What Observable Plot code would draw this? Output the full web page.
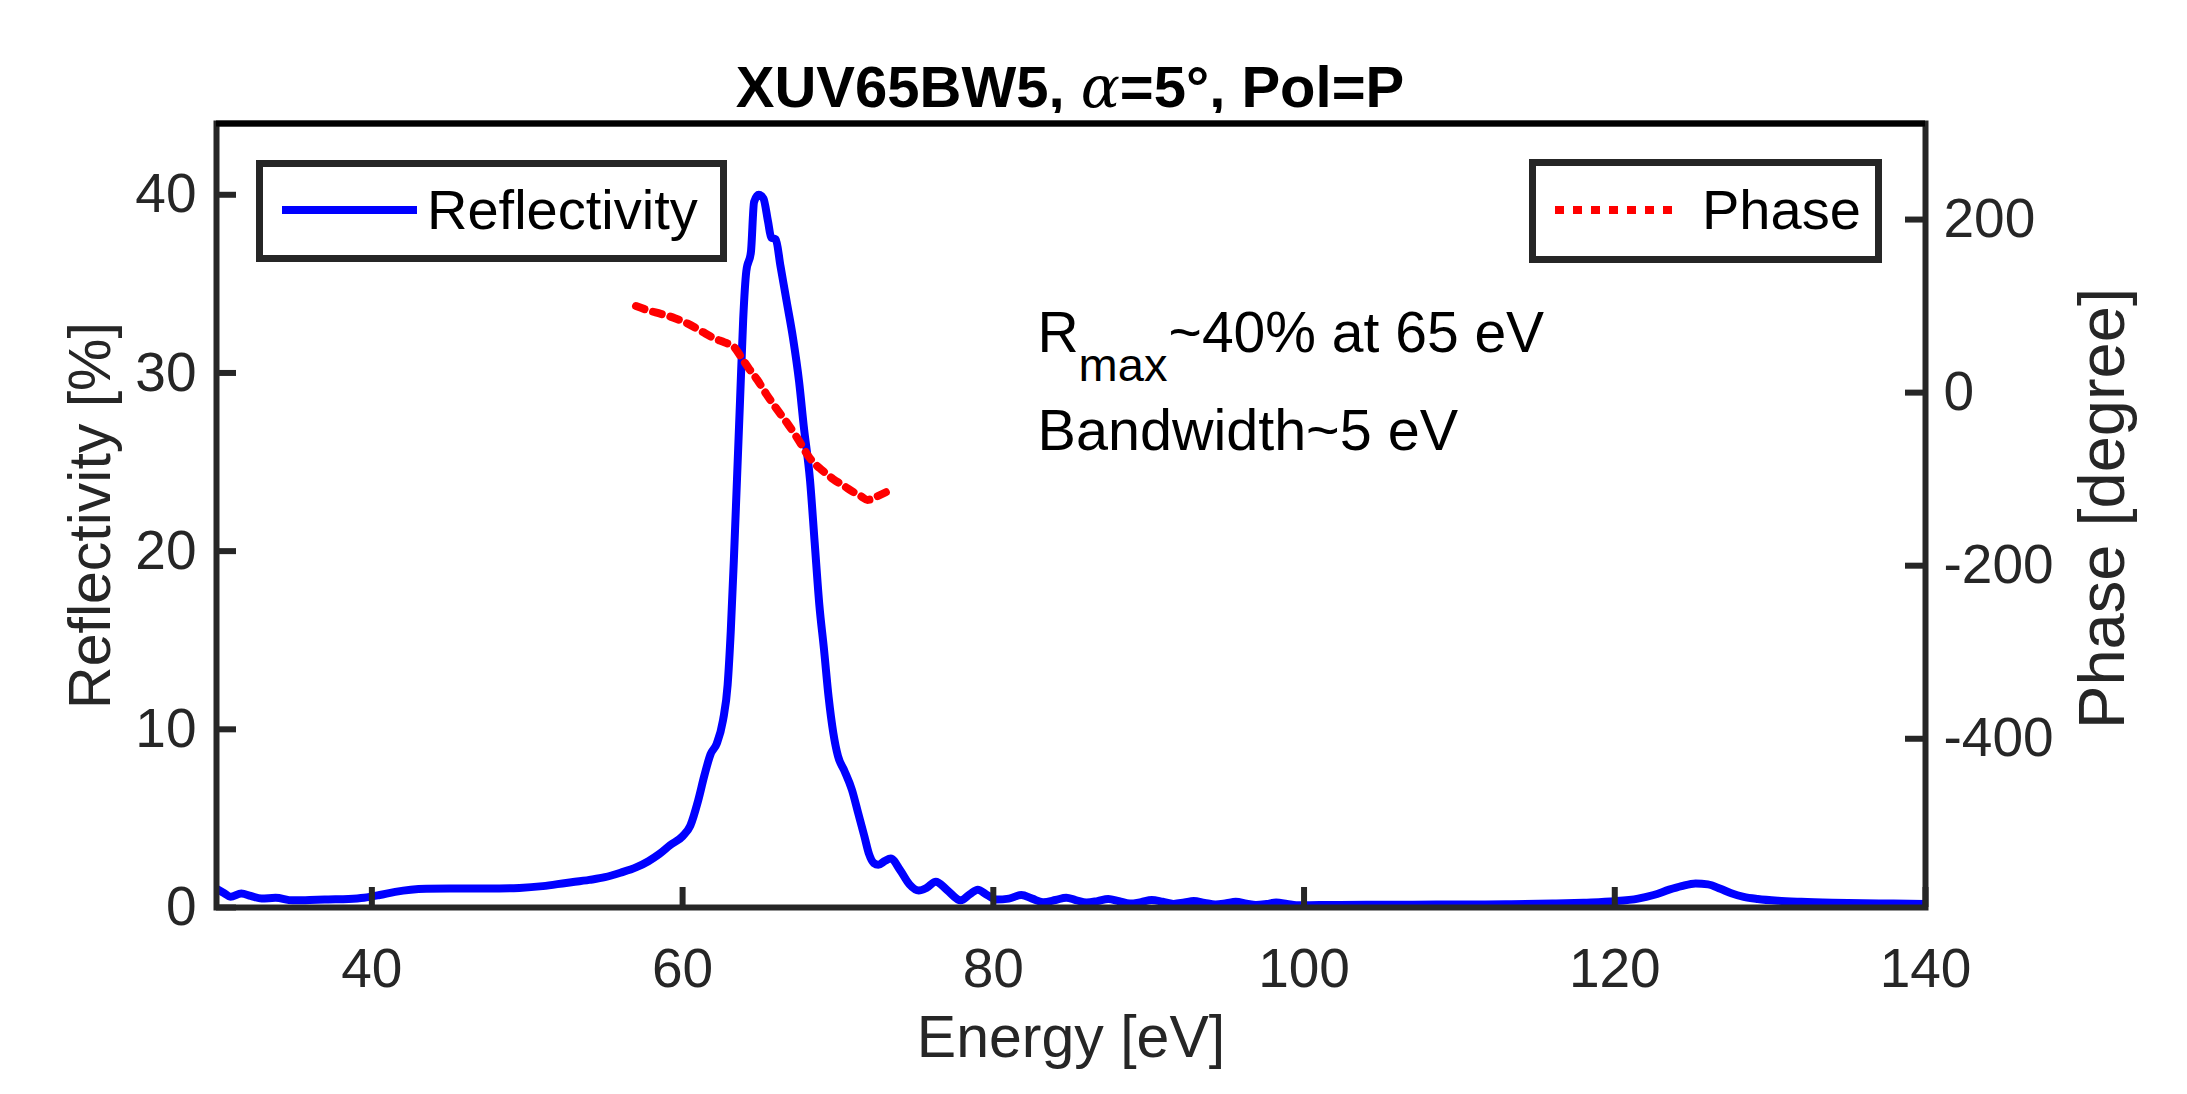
<!DOCTYPE html>
<html>
<head>
<meta charset="utf-8">
<script src="https://cdn.jsdelivr.net/npm/d3@7"></script>
<script src="https://cdn.jsdelivr.net/npm/@observablehq/plot@0.6"></script>
<style>
  html, body { margin: 0; padding: 0; background: #fff; }
  body { font-family: "Liberation Sans", Arial, sans-serif; }
  #wrap { position: relative; width: 2187px; height: 1094px; overflow: hidden; }
  #title { position: absolute; left: 0; width: 2140px; top: 58px; line-height: 58px; text-align: center;
           font-size: 58px; font-weight: bold; color: #000; white-space: nowrap; }
  #title i { font-family: "DejaVu Serif", "Liberation Serif", serif; font-weight: normal; font-style: italic; }
  #chart { position: absolute; left: 0; top: 113px; }
  .legend { position: absolute; box-sizing: border-box; border: 7px solid #262626; background: #fff; }
  .legtext { position: absolute; font-size: 56px; line-height: 56px; color: #000; white-space: nowrap; }
  .legline { position: absolute; }
</style>
</head>
<body>
<div id="wrap">
  <div id="title">XUV65BW5, <i>α</i>=5°, Pol=P</div>
  <div id="chart"></div>
  <div class="legend" style="left:256px; top:160px; width:471px; height:102px;"></div>
  <svg class="legline" style="left:280px; top:200px;" width="140" height="20">
    <line x1="2" y1="10" x2="137" y2="10" stroke="#0000ff" stroke-width="8"/>
  </svg>
  <div class="legtext" style="left:427px; top:182px;">Reflectivity</div>
  <div class="legend" style="left:1529px; top:159px; width:353px; height:104px;"></div>
  <svg class="legline" style="left:1553px; top:200px;" width="130" height="20">
    <line x1="2" y1="10" x2="127" y2="10" stroke="#ff0000" stroke-width="8" stroke-dasharray="9,9"/>
  </svg>
  <div class="legtext" style="left:1702px; top:182px;">Phase</div>
</div>
<script>
// ---- data ----
const energy = [30.0, 30.5, 30.9, 31.6, 32.2, 32.9, 33.8, 34.9, 36.0, 37.2, 38.5, 39.5, 40.5, 41.5, 42.5, 43.5,
  45.0, 47.5, 49.5, 51.0, 52.5, 54.0, 55.0, 56.0, 57.0, 57.8, 58.5, 59.2, 60.0, 60.5, 61.0, 61.4, 61.8, 62.2,
  62.6, 62.9, 63.1, 63.3, 63.5, 63.7, 63.9, 64.1, 64.4, 64.6, 64.9, 65.2, 65.5, 65.7, 66.0, 66.3, 66.7, 67.1,
  67.5, 67.8, 68.2, 68.5, 68.8, 69.1, 69.4, 69.7, 70.0, 70.4, 70.9, 71.3, 71.7, 72.0, 72.3, 72.6, 73.0, 73.4,
  74.0, 74.6, 75.2, 75.7, 76.3, 77.0, 77.9, 78.5, 79.0, 79.6, 80.2, 81.0, 81.8, 82.5, 83.2, 84.0, 84.7, 85.3,
  86.0, 86.7, 87.4, 88.1, 88.8, 89.5, 90.2, 90.9, 91.6, 92.3, 92.9, 93.6, 94.3, 95.0, 95.6, 96.3, 96.9, 97.6,
  98.2, 98.9, 99.5, 101, 104, 107, 110, 113, 116, 118, 120, 121.5, 122.5, 123.5, 124.3, 125.2, 126.0, 126.8,
  127.5, 128.3, 129.2, 130.5, 132, 134, 137, 140];
const reflectivity = [1.05, 0.8, 0.6, 0.78, 0.65, 0.5, 0.55, 0.4, 0.42, 0.45, 0.48, 0.55, 0.7, 0.88, 1.0, 1.05,
  1.06, 1.06, 1.1, 1.2, 1.38, 1.55, 1.7, 1.95, 2.25, 2.6, 3.0, 3.5, 4.0, 4.6, 6.0, 7.4, 8.6, 9.2,
  10.5, 12.5, 15.5, 19.5, 24, 28.5, 33, 35.7, 36.8, 39.6, 40.0, 39.8, 38.5, 37.6, 37.5, 36.0, 34.0, 32.0,
  29.5, 27.0, 24.0, 20.5, 17.0, 14.5, 11.8, 9.8, 8.5, 7.7, 6.6, 5.3, 4.0, 3.0, 2.5, 2.4, 2.6, 2.75,
  2.1, 1.3, 0.95, 1.1, 1.45, 1.0, 0.4, 0.75, 1.0, 0.7, 0.45, 0.5, 0.7, 0.5, 0.3, 0.42, 0.55, 0.42,
  0.28, 0.36, 0.48, 0.35, 0.22, 0.3, 0.42, 0.32, 0.2, 0.28, 0.36, 0.26, 0.17, 0.24, 0.32, 0.22, 0.14, 0.2,
  0.28, 0.2, 0.12, 0.14, 0.15, 0.16, 0.17, 0.18, 0.22, 0.27, 0.35, 0.5, 0.7, 1.0, 1.2, 1.35, 1.3, 1.05,
  0.8, 0.6, 0.48, 0.38, 0.32, 0.27, 0.23, 0.2];
const phaseEnergy = [57.0, 57.8, 58.6, 59.5, 60.3, 61.2, 62.0, 62.7, 63.3, 63.8, 64.3, 64.8, 65.4, 66.1, 66.8,
  67.4, 68.2, 69.0, 69.7, 70.4, 71.0, 71.5, 71.9, 72.5, 73.1];
const phaseDeg = [100, 95, 91, 86, 80, 71, 63, 58, 53, 40, 27, 15, -2, -20, -37,
  -53, -76, -90, -100, -108, -115, -120, -124, -120, -115];
const xTicks = [40, 60, 80, 100, 120, 140];
const yTicks = [0, 10, 20, 30, 40];
const phaseTicks = [200, 0, -200, -400];
const xDomain = [30, 140];
const yDomain = [0, 44];
const phaseDomain = [-595, 311];
const annotLine1 = ["R", "max", "~40% at 65 eV"];
const annotLine2 = ["Bandwidth~5 eV"];

// ---- mapping of the right (phase) axis onto the left scale ----
const toR = p => yDomain[0] + (p - phaseDomain[0]) / (phaseDomain[1] - phaseDomain[0]) * (yDomain[1] - yDomain[0]);
const fromR = r => phaseDomain[0] + (r - yDomain[0]) / (yDomain[1] - yDomain[0]) * (phaseDomain[1] - phaseDomain[0]);

const refl = energy.map((e, i) => ({e, r: reflectivity[i]}));
const ph = phaseEnergy.map((e, i) => ({e, r: toR(phaseDeg[i])}));

const W = 2187, H = 981, mL = 216, mR = 262, mT = 10, mB = 187;
const fw = W - mL - mR, fh = H - mT - mB;
const tick = 20;
const axisColor = "#262626";

const chart = Plot.plot({
  width: W, height: H,
  marginLeft: mL, marginRight: mR, marginTop: mT, marginBottom: mB,
  style: {fontFamily: "'Liberation Sans', Arial, sans-serif", fontSize: "55px", color: axisColor, background: "#fff"},
  x: {domain: xDomain, label: null},
  y: {domain: yDomain, label: null},
  marks: [
    Plot.line(refl, {x: "e", y: "r", stroke: "#0000ff", strokeWidth: 8, curve: "monotone-x", strokeLinejoin: "round", clip: true}),
    Plot.line(ph, {x: "e", y: "r", stroke: "#ff0000", strokeWidth: 8, strokeDasharray: "9,9", curve: "monotone-x"}),
    // tick labels
    Plot.axisX({ticks: xTicks, tickSize: 0, tickPadding: 40, label: null, fontSize: 55, fill: axisColor}),
    Plot.axisY({anchor: "left", ticks: yTicks, tickSize: 0, tickPadding: 20, label: null, fontSize: 55, fill: axisColor}),
    Plot.axisY({anchor: "right", ticks: phaseTicks.map(toR), tickFormat: d => String(Math.round(fromR(d))),
                tickSize: 0, tickPadding: 18, label: null, fontSize: 55, fill: axisColor}),
    // inward ticks
    Plot.ruleX(xTicks, {x: d => d, insetTop: fh - tick, stroke: axisColor, strokeWidth: 6}),
    Plot.ruleY(yTicks, {y: d => d, insetRight: fw - tick, stroke: axisColor, strokeWidth: 6}),
    Plot.ruleY(phaseTicks, {y: d => toR(d), insetLeft: fw - tick, stroke: axisColor, strokeWidth: 6}),
    Plot.frame({stroke: axisColor, strokeWidth: 6}),
    Plot.ruleY([yDomain[1]], {stroke: "#000", strokeWidth: 6}),
    // axis titles
    Plot.text(["Energy [eV]"], {frameAnchor: "bottom", dy: 149, fontSize: 59, fill: axisColor}),
    Plot.text(["Reflectivity [%]"], {frameAnchor: "left", textAnchor: "middle", dx: -125, rotate: -90, fontSize: 59, fill: axisColor}),
    Plot.text(["Phase [degree]"], {frameAnchor: "right", textAnchor: "middle", dx: 178, dy: -7, rotate: -90, fontSize: 65, fill: axisColor}),
    // annotation
    Plot.text([annotLine1[0]], {x: 82.85, y: 32.2, textAnchor: "start", fontSize: 57, fill: "#000"}),
    Plot.text([annotLine1[1]], {x: 82.85, y: 32.2, dx: 41, dy: 32, textAnchor: "start", fontSize: 47, fill: "#000"}),
    Plot.text([annotLine1[2]], {x: 82.85, y: 32.2, dx: 131, textAnchor: "start", fontSize: 57, fill: "#000"}),
    Plot.text(annotLine2, {x: 82.85, y: 26.7, textAnchor: "start", fontSize: 57.5, fill: "#000"})
  ]
});
document.getElementById("chart").appendChild(chart);
</script>
</body>
</html>
